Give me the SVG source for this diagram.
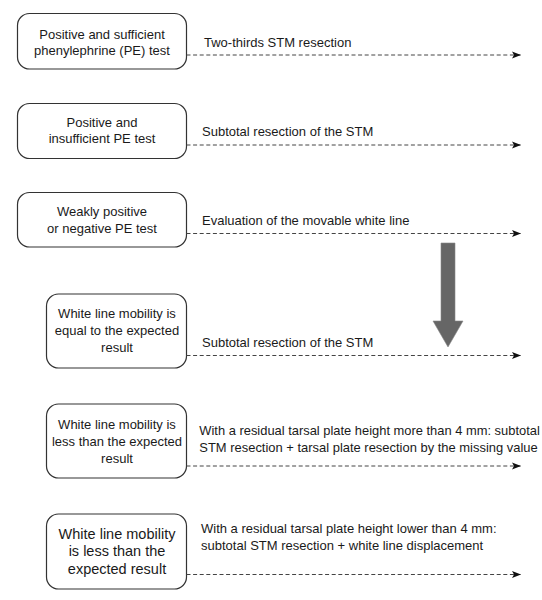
<svg xmlns="http://www.w3.org/2000/svg" width="542" height="600" viewBox="0 0 542 600">
<defs>
<style>
.box{fill:#fff;stroke:#333;stroke-width:1.2}
.t{font-family:"Liberation Sans",Arial,sans-serif;font-size:13px;fill:#1a1a1a}
.c{text-anchor:middle}
.big{font-size:14.5px}
.dash{fill:none;stroke:#444;stroke-width:1;stroke-dasharray:4 2.6}
</style>
<marker id="ah" markerUnits="userSpaceOnUse" markerWidth="10" markerHeight="8" refX="9" refY="4" orient="auto" viewBox="0 0 10 8">
<path d="M0,0.5 L9,4 L0,7.5 L2,4 Z" fill="#111"/>
</marker>
</defs>
<rect width="542" height="600" fill="#fff"/>

<g id="node1">
<rect class="box" x="17.5" y="13.5" width="169" height="55.5" rx="12"/>
<text class="t c" x="102" y="39">Positive and sufficient</text>
<text class="t c" x="102" y="55.3">phenylephrine (PE) test</text>
</g>
<g id="node2">
<rect class="box" x="17.5" y="103.5" width="169" height="55" rx="12"/>
<text class="t c" x="102" y="126.7">Positive and</text>
<text class="t c" x="102" y="143.3">insufficient PE test</text>
</g>
<g id="node3">
<rect class="box" x="17.5" y="192.5" width="169" height="54.5" rx="12"/>
<text class="t c" x="102" y="216">Weakly positive</text>
<text class="t c" x="102" y="232.7">or negative PE test</text>
</g>
<g id="node4">
<rect class="box" x="46.5" y="294" width="140" height="74" rx="12"/>
<text class="t c" x="117" y="318.3">White line mobility is</text>
<text class="t c" x="117" y="335">equal to the expected</text>
<text class="t c" x="117" y="351.7">result</text>
</g>
<g id="node5">
<rect class="box" x="46.5" y="404" width="140" height="74" rx="12"/>
<text class="t c" x="117" y="429.3">White line mobility is</text>
<text class="t c" x="117" y="446">less than the expected</text>
<text class="t c" x="117" y="462.7">result</text>
</g>
<g id="node6">
<rect class="box" x="46.5" y="514" width="140" height="75" rx="12"/>
<text class="t c big" x="117" y="538.8">White line mobility</text>
<text class="t c big" x="117" y="556.2">is less than the</text>
<text class="t c big" x="117" y="573.6">expected result</text>
</g>

<g id="connectors">
<line class="dash" x1="186.5" y1="55" x2="521" y2="55" marker-end="url(#ah)"/>
<line class="dash" x1="186.5" y1="145" x2="521" y2="145" marker-end="url(#ah)"/>
<line class="dash" x1="186.5" y1="233.5" x2="521" y2="233.5" marker-end="url(#ah)"/>
<line class="dash" x1="186.5" y1="355.5" x2="521" y2="355.5" marker-end="url(#ah)"/>
<line class="dash" x1="186.5" y1="466" x2="521" y2="466" marker-end="url(#ah)"/>
<line class="dash" x1="186.5" y1="574.5" x2="521" y2="574.5" marker-end="url(#ah)"/>
</g>

<g id="labels">
<text class="t" x="204" y="46.7">Two-thirds STM resection</text>
<text class="t" x="202" y="135.7">Subtotal resection of the STM</text>
<text class="t" x="202" y="225">Evaluation of the movable white line</text>
<text class="t" x="202" y="346.7">Subtotal resection of the STM</text>
<text class="t" x="199.3" y="435" textLength="340.5" lengthAdjust="spacingAndGlyphs">With a residual tarsal plate height more than 4 mm: subtotal</text>
<text class="t" x="199.3" y="451.7" textLength="338.4" lengthAdjust="spacingAndGlyphs">STM resection + tarsal plate resection by the missing value</text>
<text class="t" x="201" y="533.3">With a residual tarsal plate height lower than 4 mm:</text>
<text class="t" x="201" y="550">subtotal STM resection + white line displacement</text>
</g>

<g id="flow-arrow">
<path d="M441,243 L455,243 L455,321 L463,321 L448,347 L433,321 L441,321 Z" fill="#666" stroke="#888" stroke-width="0.6"/>
</g>
</svg>
